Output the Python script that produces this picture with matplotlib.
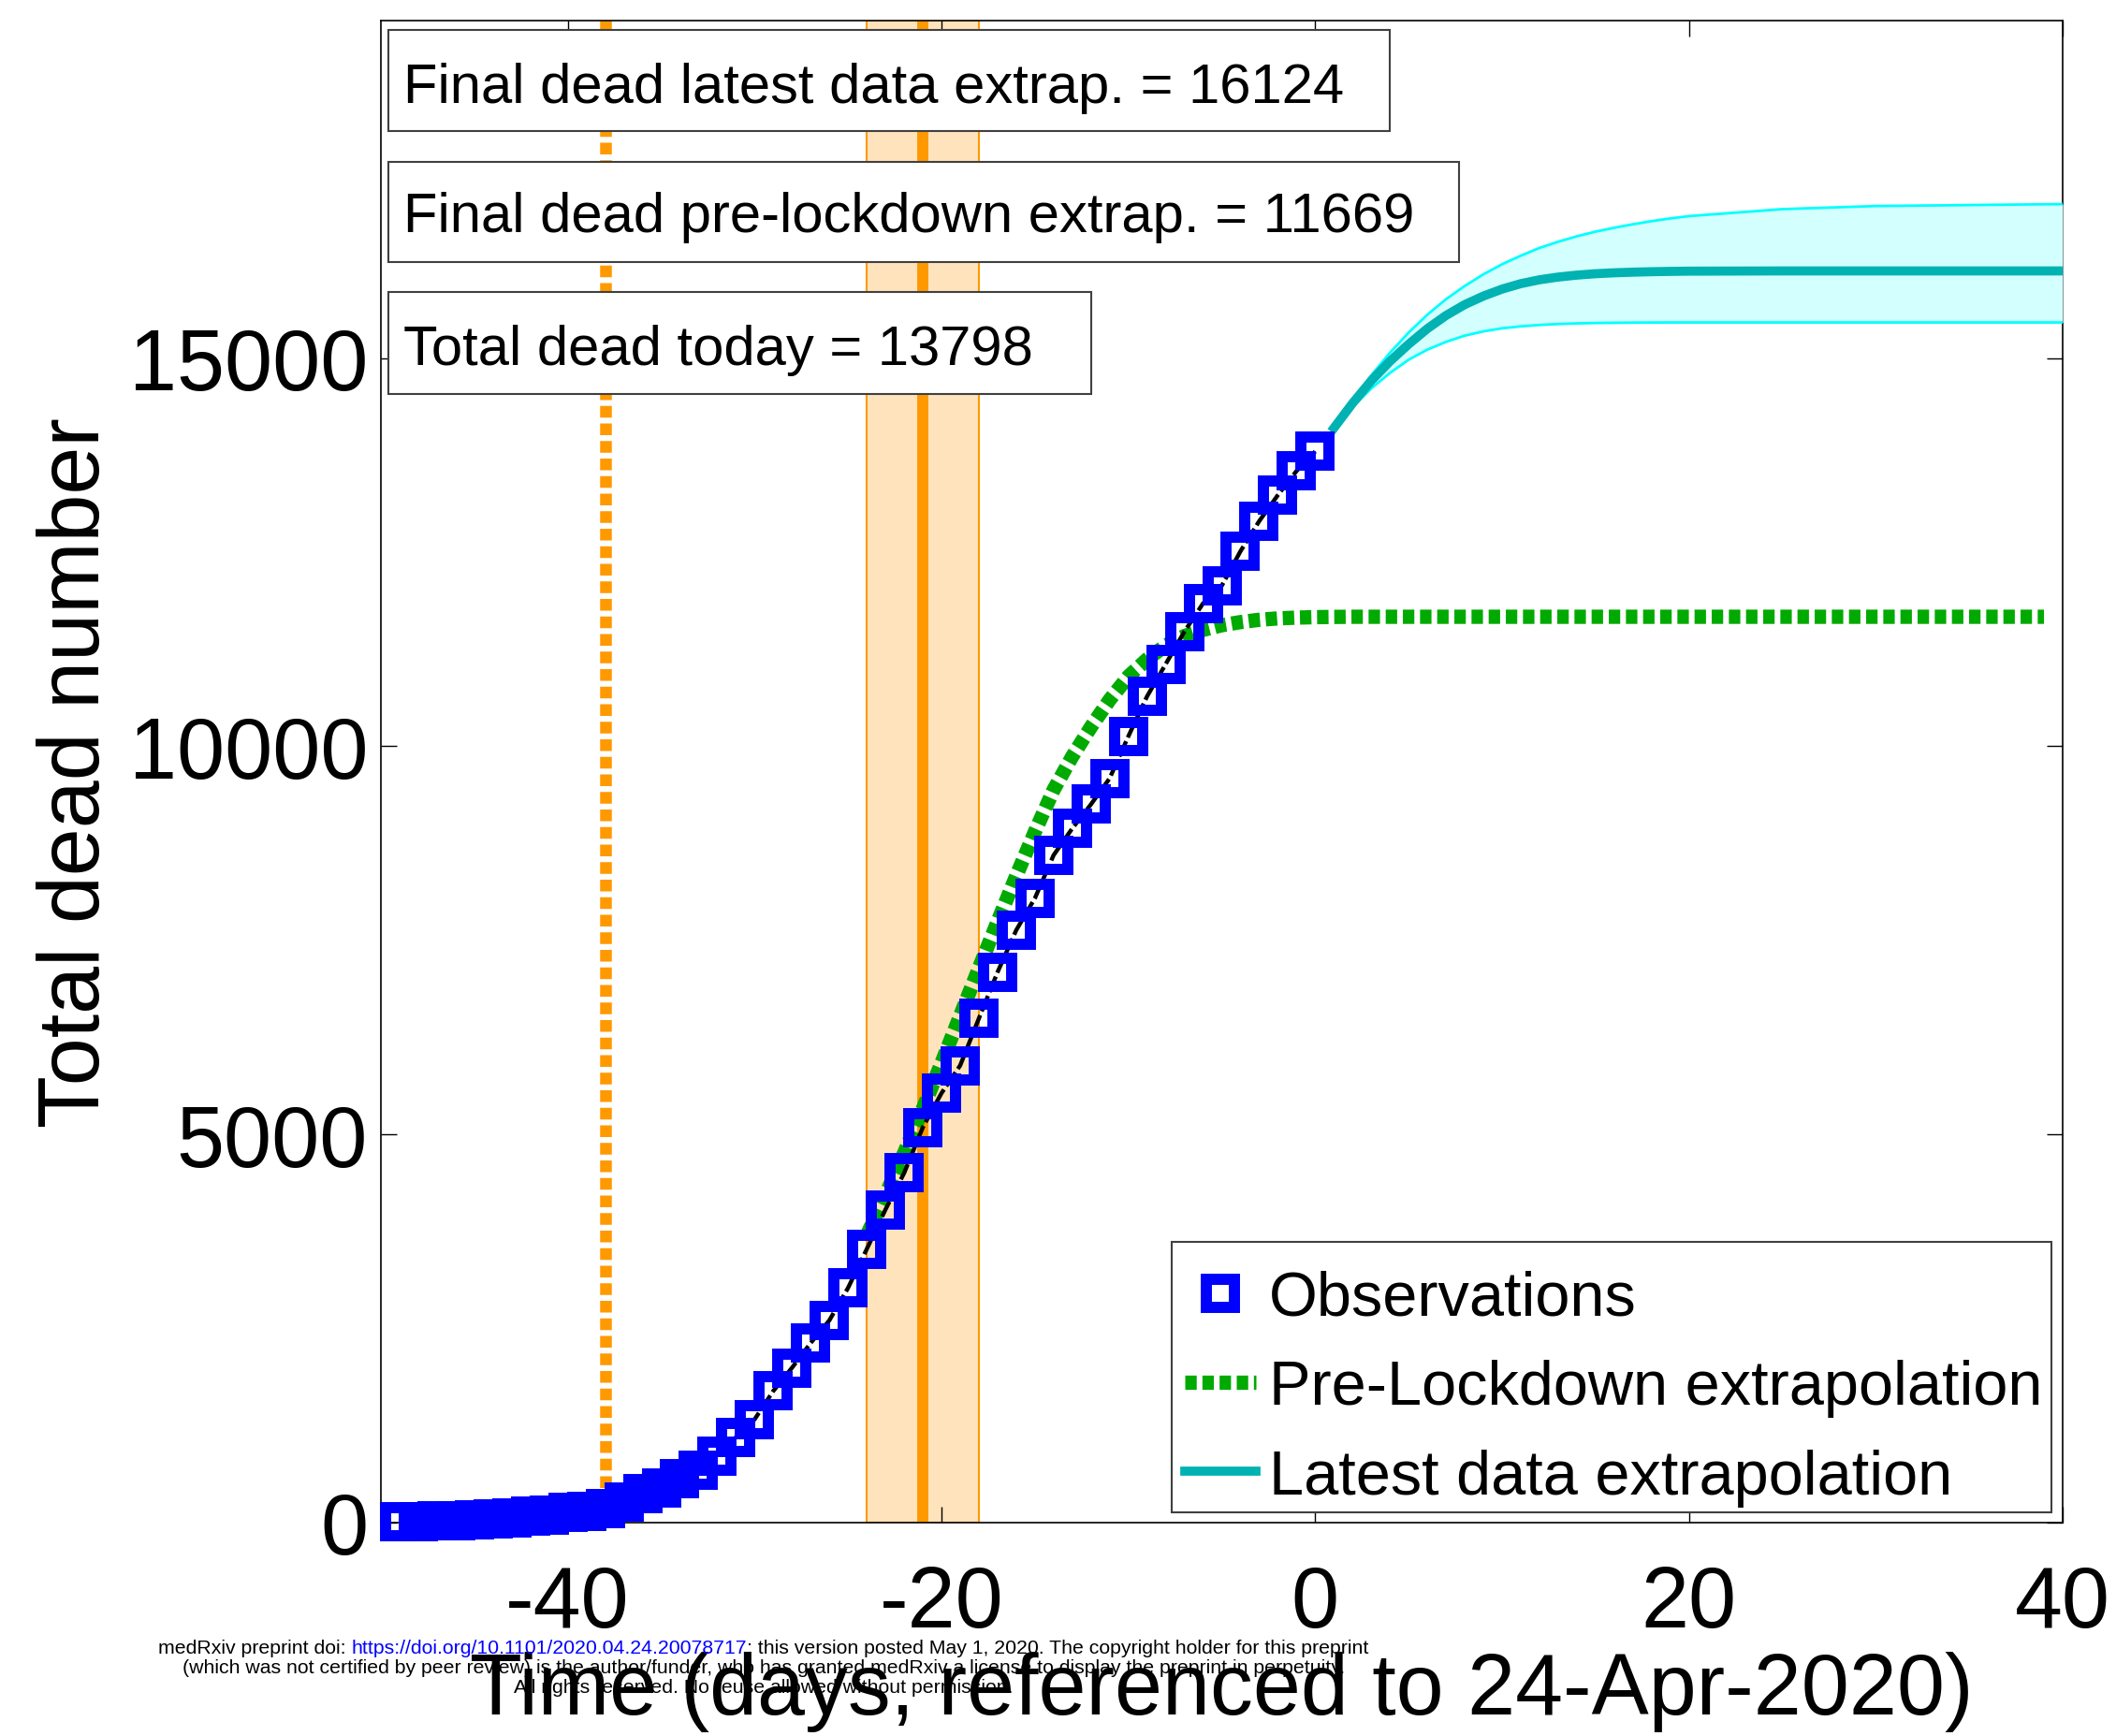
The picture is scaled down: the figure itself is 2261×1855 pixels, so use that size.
import matplotlib
matplotlib.use('Agg')
import matplotlib.pyplot as plt
from matplotlib.patches import Rectangle

plt.rcParams['font.family'] = ['Liberation Sans', 'DejaVu Sans']
plt.rcParams['axes.unicode_minus'] = False

# days referenced to 24-Apr-2020
obs_days = list(range(-49, 1))
obs_dead = [9, 16, 19, 25, 33, 48, 61, 79, 91, 127,
            148, 175, 264, 372, 450, 562, 674, 860, 1100, 1331,
            1696, 1995, 2314, 2606, 3024, 3523, 4032, 4503, 5091, 5532,
            5889, 6494, 7091, 7632, 8044, 8598, 8943, 9253, 9588, 10129,
            10643, 11060, 11478, 11842, 12069, 12513, 12900, 13236, 13547, 13798]

# pre-lockdown extrapolation (green)
pre_days = [-24, -23, -22, -21, -20, -19, -18, -17, -16, -15, -14, -13, -12, -11,
            -10, -9, -8, -7, -6, -5, -4, -3, -2, -1, 0, 1, 2, 39]
pre_dead = [3700, 4220, 4760, 5330, 5920, 6530, 7140, 7740, 8330, 8900, 9440, 9870, 10250, 10600,
            10900, 11120, 11300, 11420, 11500, 11560, 11600, 11630, 11648, 11658, 11664, 11667, 11669, 11669]

# latest data extrapolation (cyan) with its band
lat_days = [1, 2, 3, 4, 5, 6, 7, 8, 9, 10, 11, 12, 13, 14, 15, 16, 17, 18, 19, 20, 25, 30, 40]
lat_mid = [14100, 14420, 14710, 14960, 15180, 15380, 15550, 15690, 15800, 15890, 15960, 16010,
           16045, 16070, 16088, 16100, 16108, 16114, 16118, 16121, 16124, 16124, 16124]
lat_up = [14100, 14450, 14780, 15070, 15330, 15560, 15760, 15930, 16080, 16210, 16320, 16420,
          16500, 16570, 16630, 16680, 16725, 16765, 16800, 16830, 16920, 16960, 16985]
lat_low = [14080, 14370, 14610, 14810, 14980, 15110, 15210, 15290, 15345, 15385, 15410, 15428,
           15440, 15448, 15453, 15456, 15458, 15459, 15460, 15460, 15460, 15460, 15460]

lockdown_day = -38
peak_day = -21
peak_band = (-24, -18)

final_latest = 16124
final_pre = 11669
dead_today = 13798

W, H = 2261, 1856
fig = plt.figure(figsize=(W / 100, H / 100), dpi=100)
ax = fig.add_axes([407 / W, (H - 1628) / H, 1797 / W, 1605 / H])


def fx(px):
    return px / W


def fy(py):
    return 1 - py / H


orange = '#FF9900'
ax.axvspan(*peak_band, facecolor='#FFE3BD', edgecolor=orange, lw=1.5, zorder=1)
ax.axvline(peak_day, color=orange, lw=8.6, zorder=2)
ax.axvline(lockdown_day, color=orange, lw=9, dashes=(1.0, 0.5), dash_capstyle='butt', zorder=2)

ax.fill_between(lat_days, lat_low, lat_up, color='#D4FFFF', lw=0, zorder=3)
ax.plot(lat_days, lat_up, color='#00FFFF', lw=2, zorder=3)
ax.plot(lat_days, lat_low, color='#00FFFF', lw=2, zorder=3)
h_lat, = ax.plot(lat_days, lat_mid, color='#00B2B2', lw=7, zorder=4)

h_pre, = ax.plot(pre_days, pre_dead, color='#00AA00', lw=11, dashes=(0.8, 0.4),
                 dash_capstyle='butt', zorder=4)

# fitted curve sits under the square markers
ax.plot(obs_days, obs_dead, color='k', lw=3.2, dashes=(4, 1), zorder=4.5)
h_obs, = ax.plot(obs_days, obs_dead, 's', ms=22, mew=8.6, mfc='none', mec='#0000FF',
                 clip_on=False, zorder=5)

ax.set_xlim(-50, 40)
ax.set_ylim(0, 1.2 * final_latest)
ax.set_xticks([-40, -20, 0, 20, 40])
ax.set_yticks([0, 5000, 10000, 15000])
ax.tick_params(direction='in', length=12, width=1, top=True, right=True, labelsize=66)
ax.tick_params(axis='x', pad=32)
ax.tick_params(axis='y', pad=10)
for s in ax.spines.values():
    s.set_linewidth(1.2)

ax.set_xlabel('Time (days, referenced to 24-Apr-2020)', fontsize=66, va='center')
ax.xaxis.set_label_coords(0.5, (1628 - 1808) / 1605)
ax.set_ylabel('Total dead number', fontsize=66, va='center')
ax.yaxis.set_label_coords((82 - 407) / 1797, 0.5)

# legend content without its own frame; the frame is drawn separately
leg = ax.legend([h_obs, h_pre, h_lat],
                ['Observations', 'Pre-Lockdown extrapolation', 'Latest data extrapolation'],
                fontsize=48, loc='lower right', bbox_to_anchor=(1.0009, -0.0037),
                borderaxespad=0, handlelength=1.15, handletextpad=0.2,
                labelspacing=0.5, borderpad=0.35, numpoints=1, frameon=False)
leg.set_zorder(7)
ax.add_patch(Rectangle((fx(1252), fy(1617)), (2192 - 1252) / W, (1617 - 1328) / H,
                       transform=fig.transFigure, facecolor='white', edgecolor='#404040',
                       lw=1.5, zorder=6.5))

# annotation boxes (drawn over the axes)
boxes = [
    (415, 33, 1485, 141, 94, 'Final dead latest data extrap. = %d' % final_latest),
    (415, 174, 1559, 281, 233, 'Final dead pre-lockdown extrap. = %d' % final_pre),
    (415, 313, 1166, 422, 374, 'Total dead today = %d' % dead_today),
]
for x0, y0, x1, y1, yc, txt in boxes:
    fig.patches.append(Rectangle((fx(x0), fy(y1)), (x1 - x0) / W, (y1 - y0) / H,
                                 transform=fig.transFigure, facecolor='white',
                                 edgecolor='#404040', lw=1.5, zorder=5))
    fig.text(fx(431), fy(yc), txt, fontsize=43, ha='left', va='center', zorder=6)

# medRxiv watermark
fig.canvas.draw()
r = fig.canvas.get_renderer()
wm_size = 15.3
line1 = [('medRxiv preprint doi: ', 'black'),
         ('https://doi.org/10.1101/2020.04.24.20078717', 'blue'),
         ('; this version posted May 1, 2020. The copyright holder for this preprint', 'black')]
parts = []
for s, c in line1:
    t = fig.text(0, fy(1762), s, fontsize=wm_size, color=c, ha='left', va='center', zorder=10)
    parts.append((t, t.get_window_extent(r).width))
total = sum(w for _, w in parts)
x = 816 - total / 2
for t, w in parts:
    t.set_x(fx(x))
    x += w
fig.text(fx(816), fy(1783), '(which was not certified by peer review) is the author/funder, who has granted medRxiv a license to display the preprint in perpetuity.',
         fontsize=wm_size, ha='center', va='center', zorder=10)
fig.text(fx(816), fy(1804), 'All rights reserved. No reuse allowed without permission.',
         fontsize=wm_size, ha='center', va='center', zorder=10)

fig.savefig('out.png', dpi=100)
